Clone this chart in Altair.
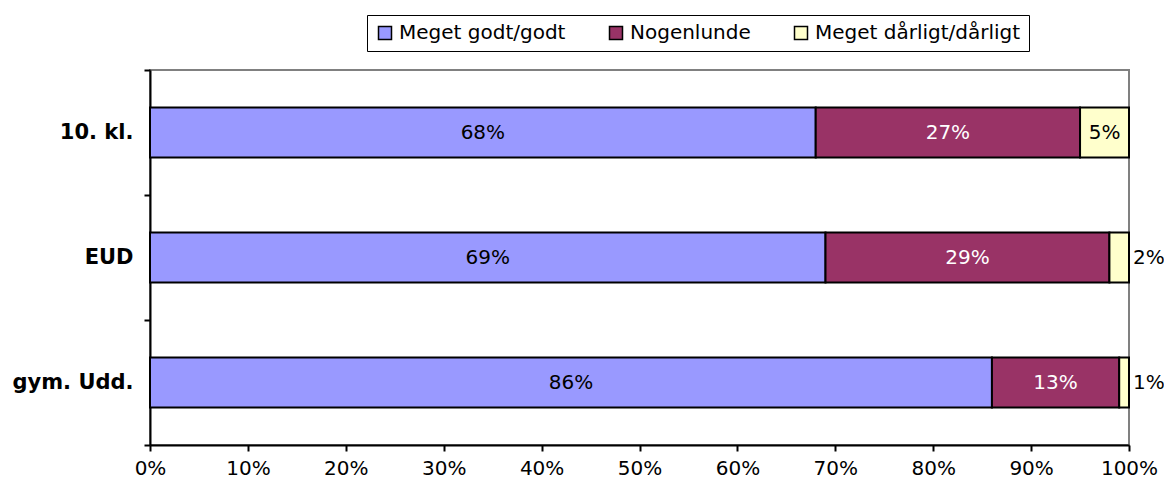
import altair as alt
import pandas as pd

categories = ["10. kl.", "EUD", "gym. Udd."]
series = ["Meget godt/godt", "Nogenlunde", "Meget dårligt/dårligt"]
colors = ["#9999FF", "#993366", "#FFFFCC"]
text_colors = ["black", "white", "black"]
good = [68, 69, 86]
medium = [27, 29, 13]
bad = [5, 2, 1]

rows = []
for i, c in enumerate(categories):
    for j, (s, v) in enumerate(zip(series, [good[i], medium[i], bad[i]])):
        rows.append({"cat": c, "serie": s, "value": v, "ord": j, "tcolor": text_colors[j]})
df = pd.DataFrame(rows)

FONT = "DejaVu Sans"
FS = 20

base = alt.Chart(df).transform_stack(
    stack="value", as_=["x0", "x1"], groupby=["cat"], sort=[alt.SortField("ord")]
)

y_scale = alt.Scale(paddingInner=0, paddingOuter=0)

y_enc = alt.Y("cat:N", sort=categories, title=None, scale=y_scale,
              axis=alt.Axis(tickBand="extent", labelFontWeight="bold", labelPadding=11,
                            labelFontSize=21, tickSize=6))

bars = base.mark_bar(stroke="black", strokeWidth=2, size=50).encode(
    x=alt.X("x0:Q", scale=alt.Scale(domain=[0, 100]), title=None,
            axis=alt.Axis(values=list(range(0, 101, 10)), labelExpr="datum.value + '%'",
                          labelPadding=7, tickSize=6, grid=False, labelFlush=False)),
    x2="x1:Q",
    y=y_enc,
    color=alt.Color("serie:N", sort=series,
                    scale=alt.Scale(domain=series, range=colors),
                    legend=alt.Legend(orient="none", legendX=217, legendY=-55,
                                      direction="horizontal", title=None,
                                      strokeColor="black", padding=8, fillColor="white",
                                      symbolType="square", symbolSize=169,
                                      symbolStrokeColor="black", symbolStrokeWidth=1.5,
                                      symbolOpacity=1, labelFontSize=FS, labelFont=FONT,
                                      labelColor="black", columnPadding=40,
                                      labelLimit=400, labelOffset=4)),
)

inside = base.transform_filter("datum.value >= 5").transform_calculate(
    mid="(datum.x0 + datum.x1) / 2", lab="datum.value + '%'"
).mark_text(fontSize=FS, font=FONT).encode(
    x="mid:Q",
    y=alt.Y("cat:N", sort=categories, scale=y_scale),
    text="lab:N",
    color=alt.Color("tcolor:N", scale=None),
)

outside = base.transform_filter("datum.value < 5").transform_calculate(
    lab="datum.value + '%'"
).mark_text(fontSize=FS, font=FONT, align="left", dx=4, color="black").encode(
    x=alt.datum(100),
    y=alt.Y("cat:N", sort=categories, scale=y_scale),
    text="lab:N",
)

chart = alt.layer(bars, inside, outside).properties(
    width=979, height=375,
    autosize=alt.AutoSizeParams(type="none"),
    padding={"left": 142, "top": 62, "right": 35, "bottom": 38},
).configure_view(
    stroke="#808080", strokeWidth=2
).configure_axis(
    domainColor="black", domainWidth=2, tickColor="black", tickWidth=2,
    labelColor="black", labelFont=FONT, labelFontSize=FS, grid=False
)

chart.save("out.html", embed_options={"renderer": "svg", "actions": False})
